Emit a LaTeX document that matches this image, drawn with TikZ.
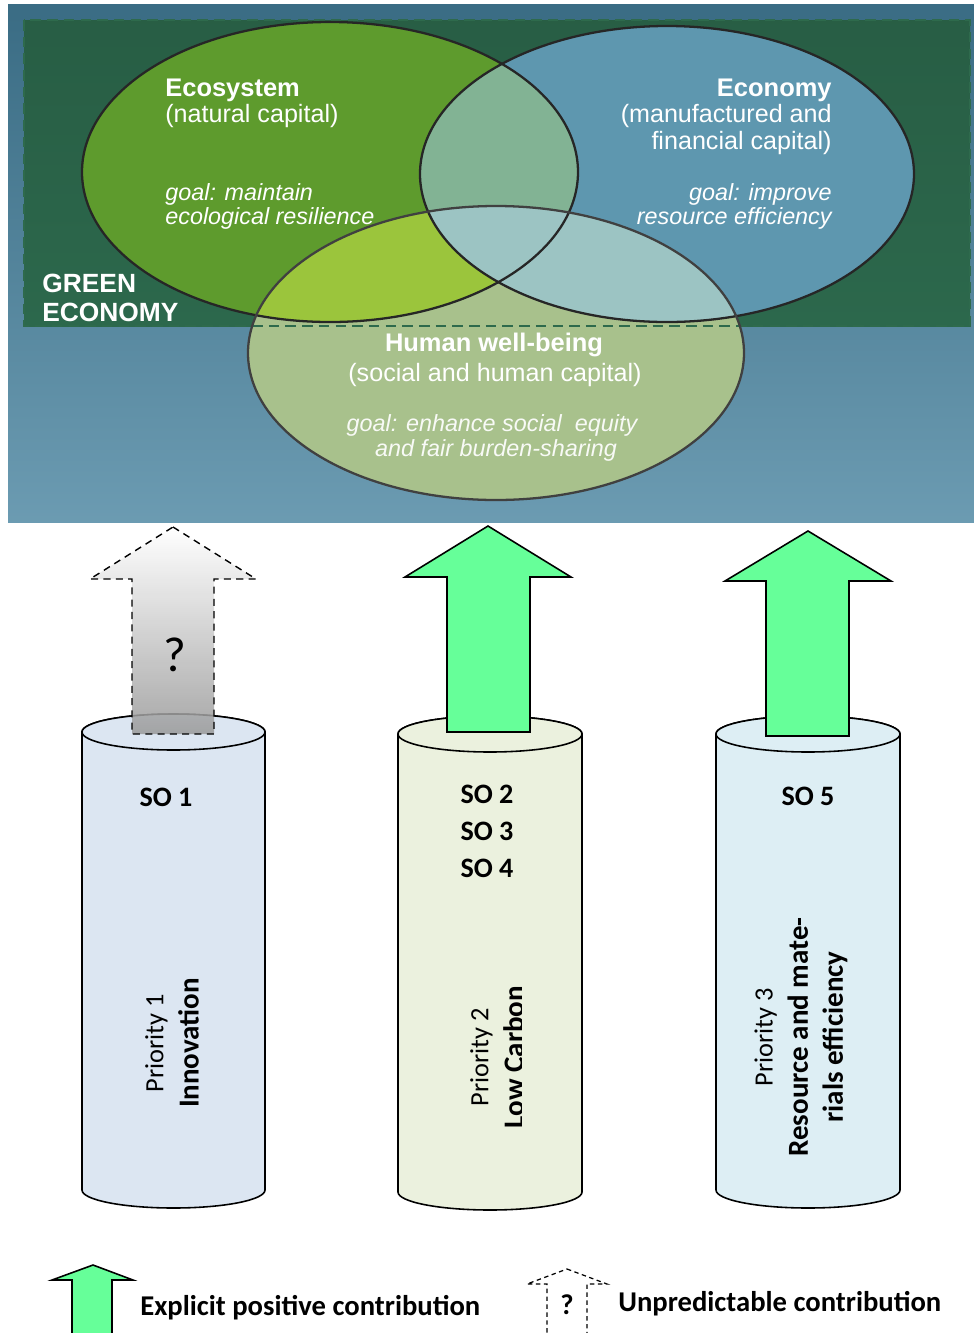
\documentclass[tikz,border=0pt]{standalone}
\usepackage{fontspec}
\setmainfont{Carlito}
\newfontfamily\vennfont{Liberation Sans}
\usetikzlibrary{positioning}

\definecolor{bgblue}{HTML}{5B90A9}
\definecolor{bgtop}{HTML}{3A6C84}
\definecolor{bggreen}{HTML}{2C684C}
\definecolor{dashgreen}{HTML}{2E6A4C}
\definecolor{ecocol}{HTML}{5E9B2D}
\definecolor{econcol}{HTML}{5E97AF}
\definecolor{humcol}{HTML}{A8C18C}
\definecolor{ecohumcol}{HTML}{9BC53C}
\definecolor{ecoeconcol}{HTML}{82B394}
\definecolor{econhumcol}{HTML}{9CC4C3}
\definecolor{midcol}{HTML}{8DBAA0}
\definecolor{posgreen}{HTML}{66FF99}
\definecolor{cylblue}{HTML}{DCE6F2}
\definecolor{cylgreen}{HTML}{EBF1DE}
\definecolor{cylcyan}{HTML}{DDEEF4}

\tikzset{
  ecoshape/.style={x radius=248,y radius=150},
  econshape/.style={x radius=247,y radius=148},
  humshape/.style={x radius=248,y radius=147},
  circline/.style={draw=black!85,line width=1.3pt},
  venntitle/.style={text=white,inner sep=0pt,font=\vennfont\bfseries\fontsize{14.5}{16}\selectfont},
  vennsub/.style={text=white,inner sep=0pt,font=\vennfont\fontsize{14.3}{16}\selectfont},
  venngoal/.style={text=white,inner sep=0pt,font=\vennfont\itshape\fontsize{13.3}{15}\selectfont},
  cylbody/.style={draw=black,line width=0.9pt},
  posarrow/.style={draw=black,line width=0.9pt,fill=posgreen,line join=miter},
  unkarrow/.style={draw=black,line width=0.8pt,dash pattern=on 4pt off 3pt},
  solabel/.style={font=\bfseries\fontsize{16}{20}\selectfont,inner sep=0pt},
  prioritylabel/.style={rotate=90,align=center,inner sep=0pt,font=\fontsize{15}{20}\selectfont},
  legendtext/.style={font=\bfseries\fontsize{16.3}{20}\selectfont,inner sep=0pt}
}

\begin{document}
\begin{tikzpicture}[x=0.02cm,y=-0.02cm]
\useasboundingbox (0,0) rectangle (974,1333);
\fill[white] (0,0) rectangle (974,1333);

% Background of the green economy picture
\shade[top color=bgtop,bottom color=bgblue!90!white] (8,4) rectangle (974,522);
\shade[top color=bggreen!90!black,bottom color=bggreen] (24,20) rectangle (970,326);

% Venn circles
\coordinate (eco) at (330,172);
\coordinate (econ) at (667,174);
\coordinate (hum) at (496,353);
\fill[ecocol] (eco) ellipse[ecoshape];
\fill[econcol] (econ) ellipse[econshape];
\fill[humcol] (hum) ellipse[humshape];
\begin{scope}
  \clip (eco) ellipse[ecoshape];
  \fill[ecohumcol] (hum) ellipse[humshape];
  \fill[ecoeconcol] (econ) ellipse[econshape];
  \begin{scope}
    \clip (econ) ellipse[econshape];
    \fill[midcol] (hum) ellipse[humshape];
  \end{scope}
\end{scope}
\begin{scope}
  \clip (econ) ellipse[econshape];
  \fill[econhumcol] (hum) ellipse[humshape];
\end{scope}

% Green economy frame
\draw[dashgreen,line width=1.6pt,dash pattern=on 6pt off 3.5pt] (24,20) rectangle (970,326);

\draw[circline] (eco) ellipse[ecoshape];
\draw[circline] (econ) ellipse[econshape];
\draw[circline,draw=black!75] (hum) ellipse[humshape];

% Venn texts
\node[venntitle,anchor=base west] (ecotitle) at (165,96) {Ecosystem};
\node[vennsub,anchor=base west] (ecosub) at (165,122) {(natural capital)};
\node[venngoal,anchor=base west] (ecogoal1) at (165,200) {goal: maintain};
\node[venngoal,anchor=base west] (ecogoal2) at (165,224) {ecological resilience};

\node[venntitle,anchor=base east] (econtitle) at (832,96) {Economy};
\node[vennsub,anchor=base east] (econsub1) at (832,122) {(manufactured and};
\node[vennsub,anchor=base east] (econsub2) at (832,149) {financial capital)};
\node[venngoal,anchor=base east] (econgoal1) at (832,200) {goal: improve};
\node[venngoal,anchor=base east] (econgoal2) at (832,224) {resource efficiency};

\node[venntitle,anchor=base] (humtitle) at (494,351) {Human well-being};
\node[vennsub,anchor=base] (humsub) at (495,381) {(social and human capital)};
\node[venngoal,anchor=base,text=white!92!humcol] (humgoal1) at (492,431) {goal: enhance social\ \ equity};
\node[venngoal,anchor=base,text=white!92!humcol] (humgoal2) at (496,456) {and fair burden-sharing};

\node[venntitle,font=\vennfont\bfseries\fontsize{15}{16}\selectfont,anchor=base west] (green) at (42,292) {GREEN};
\node[venntitle,font=\vennfont\bfseries\fontsize{15}{16}\selectfont,anchor=base west] (economy) at (42,321) {ECONOMY};

% Priority cylinders
\draw[cylbody,fill=cylblue] (82,732) -- (82,1190) arc[start angle=180,end angle=0,x radius=91.5,y radius=18] -- (265,732) arc[start angle=0,end angle=-180,x radius=91.5,y radius=18] -- cycle;
\draw[cylbody,fill=cylblue] (173.5,732) ellipse[x radius=91.5,y radius=18];
\draw[cylbody,fill=cylgreen] (398,734) -- (398,1192) arc[start angle=180,end angle=0,x radius=92,y radius=18] -- (582,734) arc[start angle=0,end angle=-180,x radius=92,y radius=18] -- cycle;
\draw[cylbody,fill=cylgreen] (490,734) ellipse[x radius=92,y radius=18];
\draw[cylbody,fill=cylcyan] (716,734) -- (716,1190) arc[start angle=180,end angle=0,x radius=92,y radius=18] -- (900,734) arc[start angle=0,end angle=-180,x radius=92,y radius=18] -- cycle;
\draw[cylbody,fill=cylcyan] (808,734) ellipse[x radius=92,y radius=18];

% Contribution arrows
\shade[top color=white,bottom color=black!40,fill opacity=0.85] (173,527) -- (256,579) -- (214,579) -- (214,734) -- (132,734) -- (132,579) -- (90,579) -- cycle;
\draw[unkarrow] (173,527) -- (256,579) -- (214,579) -- (214,734) -- (132,734) -- (132,579) -- (90,579) -- cycle;
\node[font=\fontsize{28}{30}\selectfont,inner sep=0pt] (q1) at (175,655) {?};
\draw[posarrow] (488,526) -- (571,577) -- (530,577) -- (530,732) -- (447,732) -- (447,577) -- (405,577) -- cycle;
\draw[posarrow] (808,531) -- (891,581) -- (849,581) -- (849,736) -- (766,736) -- (766,581) -- (725,581) -- cycle;

% Objectives and priorities
\node[solabel] (so1) at (166,797) {SO 1};
\node[solabel] (so2) at (487,794) {SO 2};
\node[solabel] (so3) at (487,831) {SO 3};
\node[solabel] (so4) at (487,868) {SO 4};
\node[solabel] (so5) at (808,796) {SO 5};

\node[prioritylabel] (prio1) at (172,1043) {Priority 1\\{\bfseries\fontsize{16.5}{20}\selectfont Innovation}};
\begin{scope}
  \clip (400,900) rectangle (521,1200);
  \node[prioritylabel] (prio2) at (497,1057) {Priority 2\\{\bfseries\fontsize{16.5}{20}\selectfont Low Carbon}};
\end{scope}
\node[prioritylabel] (prio3) at (801,1037) {Priority 3\\{\bfseries\fontsize{16.5}{20}\selectfont Resource and mate-}\\{\bfseries\fontsize{16.5}{20}\selectfont rials efficiency}};

% Legend
\draw[posarrow] (93,1265) -- (133,1280) -- (112,1280) -- (112,1336) -- (72,1336) -- (72,1280) -- (52,1280) -- cycle;
\node[legendtext,anchor=west] (legpos) at (140,1308) {Explicit positive contribution};
\draw[unkarrow,line width=0.7pt,dash pattern=on 2.5pt off 2pt] (567,1269) -- (607,1284) -- (587,1284) -- (587,1336) -- (547,1336) -- (547,1284) -- (527,1284) -- cycle;
\node[legendtext] (q2) at (567,1305) {?};
\node[legendtext,anchor=west] (legunk) at (618,1304) {Unpredictable contribution};
\end{tikzpicture}
\end{document}
